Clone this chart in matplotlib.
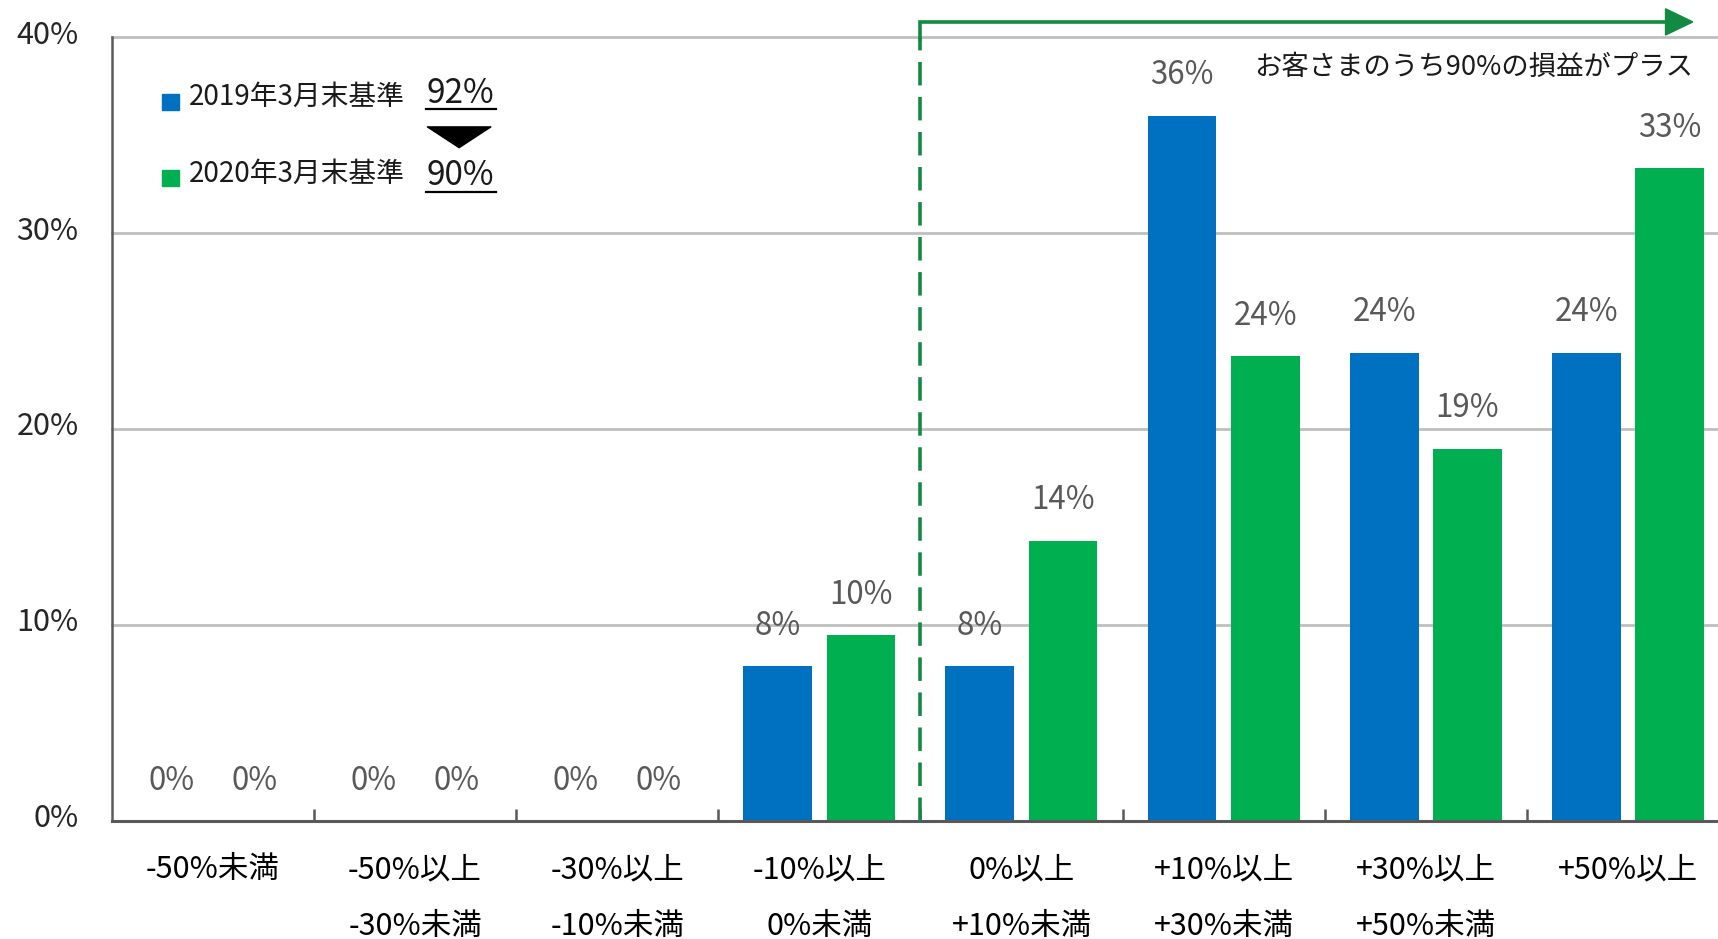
import matplotlib
matplotlib.use("Agg")
import matplotlib.pyplot as plt
import matplotlib.transforms as mtransforms
from matplotlib.patches import Rectangle, Polygon

plt.rcParams['font.family'] = ['Noto Sans CJK JP', 'DejaVu Sans']

categories = ["-50%未満", "-50%以上\n-30%未満", "-30%以上\n-10%未満", "-10%以上\n0%未満",
              "0%以上\n+10%未満", "+10%以上\n+30%未満", "+30%以上\n+50%未満", "+50%以上"]
series_2019 = [0, 0, 0, 7.9, 7.9, 36.0, 23.9, 23.9]
series_2020 = [0, 0, 0, 9.5, 14.3, 23.7, 19.0, 33.3]
series_names = ["2019年3月末基準", "2020年3月末基準"]
series_totals = ["92%", "90%"]
yticks = [0, 10, 20, 30, 40]
ytick_labels = ["0%", "10%", "20%", "30%", "40%"]
note_text = "お客さまのうち90%の損益がプラス"

BLUE = "#0070C0"
GREEN = "#00B050"
ARROW = "#138A43"
LABEL_GRAY = "#595959"

fig = plt.figure(figsize=(17.18, 9.39), dpi=100)
ax = fig.add_axes([0.0651, 0.1259, 0.9413, 0.8345])

n = len(categories)
centers = [i + 0.5 for i in range(n)]
bw = 0.34
off = 0.206

for y in yticks[1:]:
    ax.axhline(y, color="#BFBFBF", lw=2, zorder=0, clip_on=False)

xb = [c - off for c in centers]
xg = [c + off for c in centers]
ax.bar(xb, series_2019, width=bw, color=BLUE, zorder=2)
ax.bar(xg, series_2020, width=bw, color=GREEN, zorder=2)

for x, v in zip(xb, series_2019):
    ax.text(x, v + 2.05, f"{round(v)}%", ha="center", va="center", fontsize=22.5, color=LABEL_GRAY)
for x, v in zip(xg, series_2020):
    ax.text(x, v + 2.05, f"{round(v)}%", ha="center", va="center", fontsize=22.5, color=LABEL_GRAY)

ax.set_xlim(0, n)
ax.set_ylim(0, 40)
ax.set_yticks(yticks)
ax.set_yticklabels(ytick_labels, fontsize=22, color="#262626")
ax.tick_params(axis="y", length=0, pad=24)
yoff = mtransforms.ScaledTranslation(0, 4 / 72, fig.dpi_scale_trans)
for lab in ax.get_yticklabels():
    lab.set_transform(lab.get_transform() + yoff)

ax.set_xticks(range(1, n))
ax.set_xticklabels([])
ax.tick_params(axis="x", which="major", direction="in", length=9, width=1.8, color="#595959")
ax.set_xticks(centers, minor=True)
ax.set_xticklabels(categories, minor=True, fontsize=22, linespacing=2.08)
ax.tick_params(axis="x", which="minor", length=0, pad=24)

for s in ["top", "right"]:
    ax.spines[s].set_visible(False)
ax.spines["left"].set_color("#595959")
ax.spines["left"].set_linewidth(1.8)
ax.spines["bottom"].set_color("#595959")
ax.spines["bottom"].set_linewidth(2.2)
ax.spines["bottom"].set_zorder(3)

# legend-like annotation
ax.add_patch(Rectangle((0.249, 36.26), 0.082, 0.84, color=BLUE, clip_on=False))
ax.add_patch(Rectangle((0.249, 32.40), 0.082, 0.84, color=GREEN, clip_on=False))
ax.text(0.379, 36.95, series_names[0], fontsize=20, va="center", ha="left", color="#1a1a1a")
ax.text(0.379, 33.02, series_names[1], fontsize=20, va="center", ha="left", color="#1a1a1a")
ax.text(1.556, 37.10, series_totals[0], fontsize=24, va="center", ha="left", color="#1a1a1a")
ax.text(1.556, 32.95, series_totals[1], fontsize=24, va="center", ha="left", color="#1a1a1a")
ax.plot([1.556, 1.902], [36.31, 36.31], color="black", lw=1.6, clip_on=False)
ax.plot([1.556, 1.902], [32.12, 32.12], color="black", lw=1.6, clip_on=False)
ax.add_patch(Polygon([(1.561, 35.42), (1.875, 35.42), (1.718, 34.36)], closed=True,
                     color="black", clip_on=False, joinstyle="round"))

# dashed divider and arrow
ax.plot([4.0, 4.0], [0, 40.0], color=ARROW, lw=2.6, linestyle=(0, (6.5, 3.2)), clip_on=False, zorder=4)
ax.plot([4.0, 4.0, 7.69], [39.9, 40.78, 40.78], color=ARROW, lw=2.6, clip_on=False, zorder=4,
        solid_joinstyle="miter")
ax.add_patch(Polygon([(7.686, 41.45), (7.686, 40.11), (7.821, 40.78)], closed=True,
                     color=ARROW, clip_on=False, zorder=4))
ax.text(7.821, 38.44, note_text, fontsize=19.7, ha="right", va="center", color="#1a1a1a")

fig.savefig("out.png", dpi=100)
